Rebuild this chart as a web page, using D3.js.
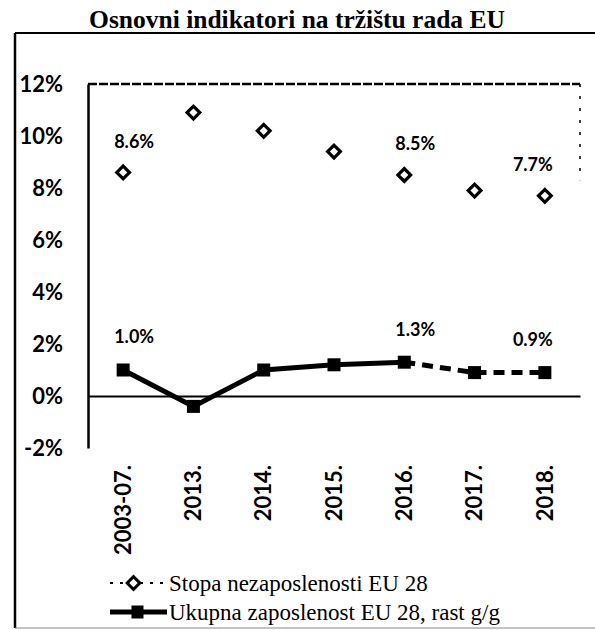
<!DOCTYPE html>
<html><head><meta charset="utf-8">
<script src="https://cdn.jsdelivr.net/npm/d3@7"></script>
<style>html,body{margin:0;padding:0;background:#fff}svg{display:block}</style>
</head><body>
<script>
const title = "Osnovni indikatori na tržištu rada EU";
const categories = ["2003-07.", "2013.", "2014.", "2015.", "2016.", "2017.", "2018."];
const unemployment = [8.6, 10.9, 10.2, 9.4, 8.5, 7.9, 7.7];
const employment = [1.0, -0.4, 1.0, 1.2, 1.3, 0.9, 0.9];
const unemploymentLabels = [[0, "8.6%"], [4, "8.5%"], [6, "7.7%"]];
const employmentLabels = [[0, "1.0%"], [4, "1.3%"], [6, "0.9%"]];
const yTicks = [-2, 0, 2, 4, 6, 8, 10, 12];
const legendNames = ["Stopa nezaposlenosti EU 28", "Ukupna zaposlenost EU 28, rast g/g"];
const lastActual = 4; // employment line is dashed after this index

const W = 595, H = 630;
const svg = d3.select("body").append("svg").attr("width", W).attr("height", H);

const x = d3.scaleBand().domain(categories).range([88, 580]);
const cx = c => x(c) + x.bandwidth() / 2;
const y = d3.scaleLinear().domain([-2, 12]).range([448, 84]);

// outer frame
svg.append("line").attr("x1", 15).attr("x2", 595).attr("y1", 33).attr("y2", 33).attr("stroke", "#000").attr("stroke-width", 2);
svg.append("line").attr("x1", 15).attr("x2", 15).attr("y1", 33).attr("y2", 628).attr("stroke", "#000").attr("stroke-width", 2.5);
svg.append("line").attr("x1", 15).attr("x2", 595).attr("y1", 628).attr("y2", 628).attr("stroke", "#888").attr("stroke-width", 1);

// title
svg.append("text").attr("x", 297).attr("y", 28).attr("text-anchor", "middle")
  .style("font-family", "Liberation Serif").style("font-weight", "bold").style("font-size", "25.5px")
  .text(title);

// plot frame (top and right, dashed as in the scan)
svg.append("line").attr("x1", x.range()[0]).attr("x2", x.range()[1]).attr("y1", y(12)).attr("y2", y(12))
  .attr("stroke", "#000").attr("stroke-width", 2.5).attr("stroke-dasharray", "9,2");
svg.append("line").attr("x1", x.range()[1]).attr("x2", x.range()[1]).attr("y1", y(12)).attr("y2", y(8.3))
  .attr("stroke", "#000").attr("stroke-width", 1.5).attr("stroke-dasharray", "3,9");

// y axis
const yAxis = d3.axisLeft(y).tickValues(yTicks).tickSize(0).tickPadding(25).tickFormat(d => d + "%");
const gy = svg.append("g").attr("transform", `translate(${x.range()[0]},0)`).call(yAxis);
gy.select(".domain").attr("stroke", "#000").attr("stroke-width", 2.5);
gy.selectAll("text").style("font-family", "Lato").style("font-weight", "bold").style("font-size", "22px").attr("fill", "#000");

// zero line + x labels
const xAxis = d3.axisBottom(x).tickSize(0).tickPadding(0);
const gx = svg.append("g").attr("transform", `translate(0,${y(0)})`).call(xAxis);
gx.select(".domain").attr("stroke", "#000").attr("stroke-width", 2);
gx.selectAll(".tick text")
  .attr("transform", "rotate(-90)")
  .attr("text-anchor", "end").attr("x", -(y(-2) - y(0)) - 17).attr("y", 0).attr("dy", "0.35em")
  .style("font-family", "Lato").style("font-weight", "bold").style("font-size", "22px").attr("fill", "#000");

// employment line
const empPts = employment.map((v, i) => ({v, i}));
const lineIdx = d3.line().x(d => cx(categories[d.i])).y(d => y(d.v));
svg.append("path").datum(empPts.slice(0, lastActual + 1)).attr("d", lineIdx)
  .attr("fill", "none").attr("stroke", "#000").attr("stroke-width", 5);
svg.append("path").datum(empPts.slice(lastActual)).attr("d", lineIdx)
  .attr("fill", "none").attr("stroke", "#000").attr("stroke-width", 5).attr("stroke-dasharray", "11,7");
svg.selectAll(".sq").data(empPts).enter().append("rect")
  .attr("x", d => cx(categories[d.i]) - 6.5).attr("y", d => y(d.v) - 6.5)
  .attr("width", 13).attr("height", 13).attr("fill", "#000");

// unemployment diamonds
const diamond = d3.symbol().type(d3.symbolSquare).size(81);
svg.selectAll(".dm").data(unemployment).enter().append("path")
  .attr("d", diamond)
  .attr("transform", (d, i) => `translate(${cx(categories[i])},${y(d)}) rotate(45)`)
  .attr("fill", "#fff").attr("stroke", "#000").attr("stroke-width", 3.2);

// data labels
const labelFont = g => g.style("font-family", "Lato").style("font-weight", "bold").style("font-size", "18px").attr("fill", "#000");
function addLabels(list, series, dy) {
  list.forEach(([i, t]) => {
    const dx = i === categories.length - 1 ? -12 : 11;
    svg.append("text").attr("x", cx(categories[i]) + dx).attr("y", y(series[i]) + dy)
      .attr("text-anchor", "middle").attr("dy", "0.35em").call(labelFont).text(t);
  });
}
addLabels(unemploymentLabels, unemployment, -31);
addLabels(employmentLabels, employment, -33);

// legend
const lg = svg.append("g");
const lx0 = 110, lx1 = 163, ly1 = 583, ly2 = 612;
lg.append("line").attr("x1", lx0).attr("x2", lx1).attr("y1", ly1).attr("y2", ly1)
  .attr("stroke", "#000").attr("stroke-width", 2).attr("stroke-dasharray", "3,7");
lg.append("path").attr("d", diamond).attr("transform", `translate(${(lx0 + lx1) / 2 - 3},${ly1}) rotate(45)`)
  .attr("fill", "#fff").attr("stroke", "#000").attr("stroke-width", 3);
lg.append("line").attr("x1", lx0).attr("x2", lx1 + 4).attr("y1", ly2).attr("y2", ly2)
  .attr("stroke", "#000").attr("stroke-width", 5);
lg.append("rect").attr("x", (lx0 + lx1) / 2 - 5).attr("y", ly2 - 6.5).attr("width", 12).attr("height", 13).attr("fill", "#000");
lg.selectAll("text").data(legendNames).enter().append("text")
  .attr("x", 169).attr("y", (d, i) => i ? ly2 : ly1).attr("dy", "0.35em")
  .style("font-family", "Liberation Serif").style("font-size", "23px").attr("fill", "#000")
  .text(d => d);
</script>
</body></html>
